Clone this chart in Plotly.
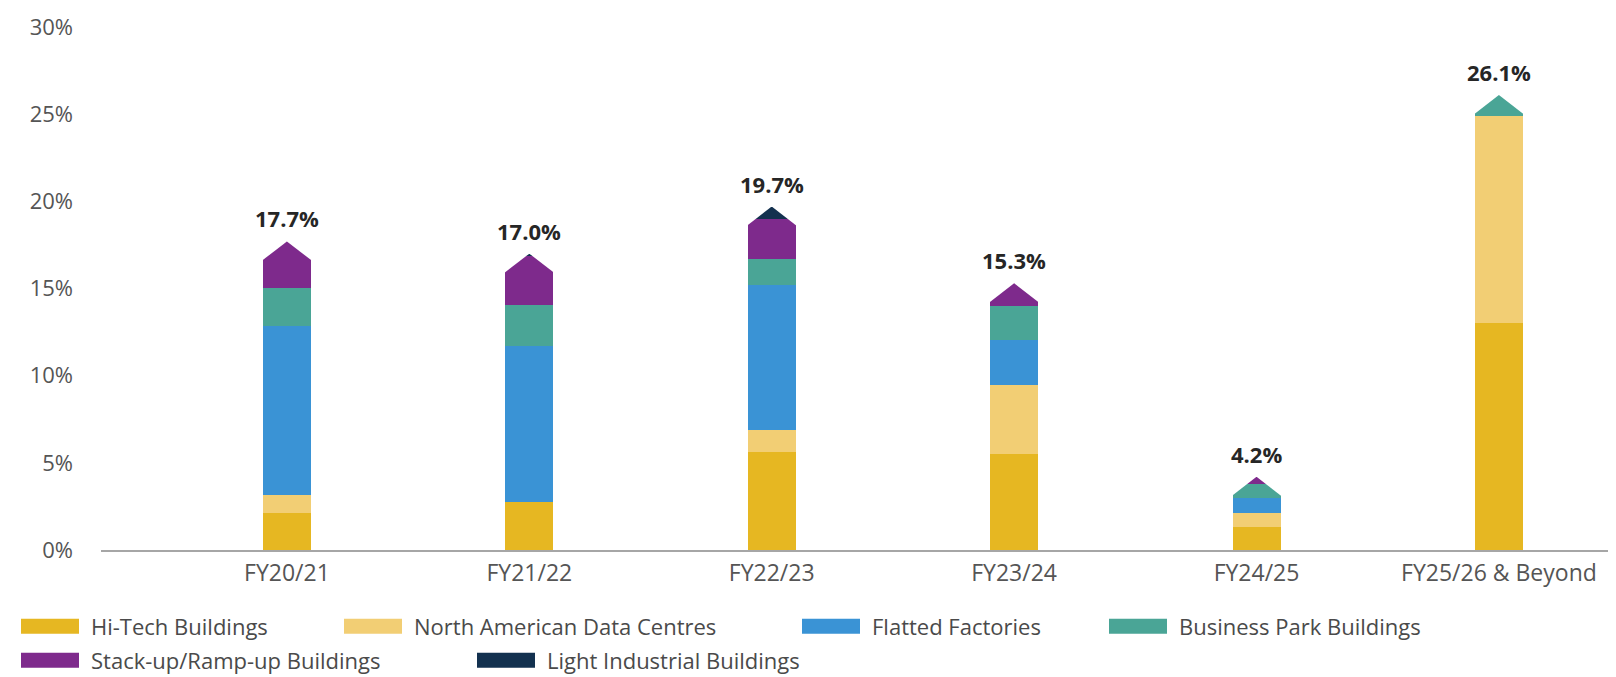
import plotly.graph_objects as go

categories = ["FY20/21", "FY21/22", "FY22/23", "FY23/24", "FY24/25", "FY25/26 & Beyond"]
series_names = ["Hi-Tech Buildings", "North American Data Centres", "Flatted Factories",
                "Business Park Buildings", "Stack-up/Ramp-up Buildings", "Light Industrial Buildings"]
series_colors = ["#E6B722", "#F2CE74", "#3A93D5", "#4AA596", "#7E2A8C", "#13314F"]

hi_tech = [2.1, 2.75, 5.6, 5.5, 1.3, 13.0]
na_data_centres = [1.05, 0.0, 1.3, 3.95, 0.8, 11.9]
flatted_factories = [9.7, 8.95, 8.3, 2.6, 0.9, 0.0]
business_park = [2.2, 2.35, 1.5, 1.95, 0.8, 1.2]
stack_up = [2.65, 2.85, 2.3, 1.3, 0.4, 0.0]
light_industrial = [0.0, 0.1, 0.7, 0.0, 0.0, 0.0]
total_labels = ["17.7%", "17.0%", "19.7%", "15.3%", "4.2%", "26.1%"]

series_values = [hi_tech, na_data_centres, flatted_factories, business_park, stack_up, light_industrial]

xpos = list(range(len(categories)))
bar_w = 0.198
cap_h = 1.15  # height of the arrow tip, in % units

fig = go.Figure()
for name, vals, col in zip(series_names, series_values, series_colors):
    fig.add_trace(go.Bar(x=xpos, y=vals, name=name, width=bar_w,
                         marker=dict(color=col, line=dict(width=0)),
                         showlegend=False))

# white corner masks turn the top of every stack into an arrow tip
stack_tops = [sum(v[i] for v in series_values) for i in xpos]
for i, top in zip(xpos, stack_tops):
    h = min(cap_h, top)
    for side in (-1, 1):
        edge = i + side * (bar_w / 2 + 0.01)
        fig.add_trace(go.Scatter(
            x=[edge, edge, i, i],
            y=[top - h - 0.02, top + 0.3, top + 0.3, top],
            fill="toself", fillcolor="white", mode="lines", line=dict(width=0),
            hoverinfo="skip", showlegend=False))

for i, top, lab in zip(xpos, stack_tops, total_labels):
    fig.add_annotation(x=i, y=top, text="<b>" + lab + "</b>", showarrow=False,
                       yanchor="bottom", yshift=6,
                       font=dict(size=22, color="#262626", family="Open Sans"))

# custom legend with wide swatches
plot_left, plot_right = 93, 1616
plot_top, plot_bottom = 19, 541.7
def px_x(p):
    return (p - plot_left) / (plot_right - plot_left)
def px_y(p):
    return (plot_bottom - p) / (plot_bottom - plot_top)

legend_slots = [(13, 618), (336, 618), (794, 618), (1101, 618), (13, 652), (469, 652)]
for name, col, (lx, ly) in zip(series_names, series_colors, legend_slots):
    fig.add_shape(type="rect", xref="paper", yref="paper",
                  x0=px_x(lx), x1=px_x(lx + 58), y0=px_y(ly + 7.5), y1=px_y(ly - 7.5),
                  fillcolor=col, line=dict(width=0))
    fig.add_annotation(xref="paper", yref="paper", x=px_x(lx + 68), y=px_y(ly),
                       text=name, showarrow=False, xanchor="left", yanchor="middle",
                       font=dict(size=22, color="#4a4a4a", family="Open Sans"))

fig.update_layout(
    width=1616, height=677,
    margin=dict(l=plot_left, r=0, t=plot_top, b=677 - plot_bottom),
    paper_bgcolor="white", plot_bgcolor="white",
    barmode="stack", bargap=0,
    font=dict(family="Open Sans", color="#555555"),
)
fig.update_xaxes(range=[-0.767, 5.516], tickvals=xpos, ticktext=categories,
                 showgrid=False, zeroline=False, showline=True, linecolor="#a6a6a6",
                 linewidth=2, ticks="", ticklabelstandoff=1, automargin=False,
                 tickfont=dict(size=23, color="#555555"))
fig.update_yaxes(range=[0, 30], dtick=5, ticksuffix="%", showgrid=False, zeroline=False,
                 showline=False, ticklabelstandoff=27, automargin=False,
                 tickfont=dict(size=22, color="#555555"))

fig.write_html("out.html")
